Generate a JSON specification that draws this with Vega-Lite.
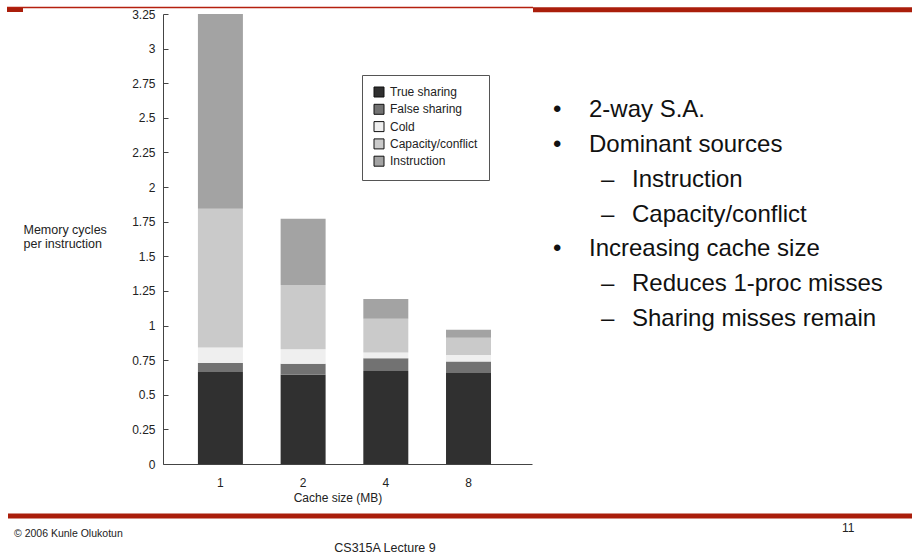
{
  "$schema": "https://vega.github.io/schema/vega-lite/v6.json",
  "width": 369,
  "height": 450,
  "autosize": {"type": "none"},
  "padding": {"left": 163, "top": 14, "right": 380, "bottom": 90},
  "background": "white",
  "config": {"view": {"stroke": null}, "font": "Liberation Sans"},
  "datasets": {
    "misses": [
      {"size": "1", "source": "True sharing", "rank": 1, "cycles": 0.664},
      {"size": "1", "source": "False sharing", "rank": 2, "cycles": 0.065},
      {"size": "1", "source": "Cold", "rank": 3, "cycles": 0.113},
      {"size": "1", "source": "Capacity/conflict", "rank": 4, "cycles": 1.001},
      {"size": "1", "source": "Instruction", "rank": 5, "cycles": 1.407},
      {"size": "2", "source": "True sharing", "rank": 1, "cycles": 0.645},
      {"size": "2", "source": "False sharing", "rank": 2, "cycles": 0.079},
      {"size": "2", "source": "Cold", "rank": 3, "cycles": 0.104},
      {"size": "2", "source": "Capacity/conflict", "rank": 4, "cycles": 0.464},
      {"size": "2", "source": "Instruction", "rank": 5, "cycles": 0.479},
      {"size": "4", "source": "True sharing", "rank": 1, "cycles": 0.671},
      {"size": "4", "source": "False sharing", "rank": 2, "cycles": 0.092},
      {"size": "4", "source": "Cold", "rank": 3, "cycles": 0.043},
      {"size": "4", "source": "Capacity/conflict", "rank": 4, "cycles": 0.243},
      {"size": "4", "source": "Instruction", "rank": 5, "cycles": 0.142},
      {"size": "8", "source": "True sharing", "rank": 1, "cycles": 0.657},
      {"size": "8", "source": "False sharing", "rank": 2, "cycles": 0.084},
      {"size": "8", "source": "Cold", "rank": 3, "cycles": 0.046},
      {"size": "8", "source": "Capacity/conflict", "rank": 4, "cycles": 0.125},
      {"size": "8", "source": "Instruction", "rank": 5, "cycles": 0.058}
    ],
    "notes": [
      {"item": "2-way S.A.", "line": 1, "depth": 1, "marker": "•"},
      {"item": "Dominant sources", "line": 2, "depth": 1, "marker": "•"},
      {"item": "Instruction", "line": 3, "depth": 2, "marker": "–"},
      {"item": "Capacity/conflict", "line": 4, "depth": 2, "marker": "–"},
      {"item": "Increasing cache size", "line": 5, "depth": 1, "marker": "•"},
      {"item": "Reduces 1-proc misses", "line": 6, "depth": 2, "marker": "–"},
      {"item": "Sharing misses remain", "line": 7, "depth": 2, "marker": "–"}
    ]
  },
  "layer": [
    {
      "data": {"name": "misses"},
      "mark": {"type": "bar"},
      "encoding": {
        "x": {
          "field": "size",
          "type": "ordinal",
          "sort": ["1", "2", "4", "8"],
          "scale": {"paddingInner": 0.456, "paddingOuter": 0.459, "align": 0.46},
          "axis": {
            "labelAngle": 0,
            "ticks": false,
            "domainColor": "#444",
            "labelPadding": 13,
            "labelFontSize": 12,
            "labelColor": "#222",
            "title": "Cache size (MB)",
            "titleFontSize": 12,
            "titleFontWeight": "normal",
            "titleColor": "#222",
            "titlePadding": 4,
            "titleX": 174.5
          }
        },
        "y": {
          "field": "cycles",
          "type": "quantitative",
          "stack": "zero",
          "scale": {"domain": [0, 3.25], "nice": false},
          "axis": {
            "values": [0, 0.25, 0.5, 0.75, 1, 1.25, 1.5, 1.75, 2, 2.25, 2.5, 2.75, 3, 3.25],
            "format": ".2~f",
            "grid": false,
            "domainColor": "#444",
            "tickColor": "#444",
            "tickSize": -5,
            "labelPadding": 13,
            "labelFontSize": 12,
            "labelColor": "#222",
            "title": ["Memory cycles", "per instruction"],
            "titleAngle": 0,
            "titleAlign": "left",
            "titleBaseline": "alphabetic",
            "titleX": -140,
            "titleY": 219,
            "titleFontSize": 12.5,
            "titleFontWeight": "normal",
            "titleColor": "#222",
            "titleLineHeight": 14
          }
        },
        "color": {
          "field": "source",
          "type": "nominal",
          "scale": {
            "domain": ["True sharing", "False sharing", "Cold", "Capacity/conflict", "Instruction"],
            "range": ["#303030", "#727272", "#efefef", "#cacaca", "#a3a3a3"]
          },
          "legend": {
            "orient": "none",
            "legendX": 199,
            "legendY": 61,
            "title": null,
            "direction": "vertical",
            "symbolType": "square",
            "symbolSize": 100,
            "symbolStrokeColor": "#111",
            "symbolStrokeWidth": 1,
            "symbolOpacity": 1,
            "labelFontSize": 12,
            "labelColor": "#222",
            "labelOffset": 5,
            "rowPadding": 3.3,
            "padding": 11,
            "strokeColor": "#555",
            "fillColor": "white"
          }
        },
        "order": {"field": "rank", "type": "quantitative"}
      }
    },
    {
      "data": {"name": "notes"},
      "mark": {"type": "text", "align": "left", "baseline": "alphabetic", "fontSize": 24, "color": "#111"},
      "encoding": {
        "x": {"field": "depth", "type": "ordinal", "scale": {"type": "point", "range": [390, 438], "padding": 0}, "axis": null},
        "y": {"field": "line", "type": "ordinal", "scale": {"type": "point", "range": [103, 312], "padding": 0}, "axis": null},
        "text": {"field": "marker"}
      }
    },
    {
      "data": {"name": "notes"},
      "mark": {"type": "text", "align": "left", "baseline": "alphabetic", "fontSize": 24, "color": "#111"},
      "encoding": {
        "x": {"field": "depth", "type": "ordinal", "scale": {"type": "point", "range": [426, 469], "padding": 0}, "axis": null},
        "y": {"field": "line", "type": "ordinal", "scale": {"type": "point", "range": [103, 312], "padding": 0}, "axis": null},
        "text": {"field": "item"}
      }
    },
    {
      "data": {"values": [{}]},
      "mark": {"type": "rule", "color": "#b5200f", "strokeWidth": 1.5},
      "encoding": {"x": {"value": -156}, "x2": {"value": 370}, "y": {"value": -6.5}}
    },
    {
      "data": {"values": [{}]},
      "mark": {"type": "rule", "color": "#aa1e0b", "strokeWidth": 4},
      "encoding": {"x": {"value": -156}, "x2": {"value": -140}, "y": {"value": -4}}
    },
    {
      "data": {"values": [{}]},
      "mark": {"type": "rule", "color": "#aa1e0b", "strokeWidth": 5},
      "encoding": {"x": {"value": 370}, "x2": {"value": 749}, "y": {"value": -4.2}}
    },
    {
      "data": {"values": [{}]},
      "mark": {"type": "rule", "color": "#aa1e0b", "strokeWidth": 5},
      "encoding": {"x": {"value": -155}, "x2": {"value": 749}, "y": {"value": 502}}
    },
    {
      "data": {"values": [{"footer": "© 2006 Kunle Olukotun"}]},
      "mark": {"type": "text", "x": -149, "y": 523, "align": "left", "baseline": "alphabetic", "fontSize": 10.5, "color": "#222"},
      "encoding": {"text": {"field": "footer"}}
    },
    {
      "data": {"values": [{"footer": "CS315A Lecture 9"}]},
      "mark": {"type": "text", "x": 222, "y": 538, "align": "center", "baseline": "alphabetic", "fontSize": 12.5, "color": "#222"},
      "encoding": {"text": {"field": "footer"}}
    },
    {
      "data": {"values": [{"footer": "11"}]},
      "mark": {"type": "text", "x": 679, "y": 518, "align": "left", "baseline": "alphabetic", "fontSize": 12, "color": "#222"},
      "encoding": {"text": {"field": "footer"}}
    }
  ],
  "resolve": {"scale": {"x": "independent", "y": "independent"}}
}
